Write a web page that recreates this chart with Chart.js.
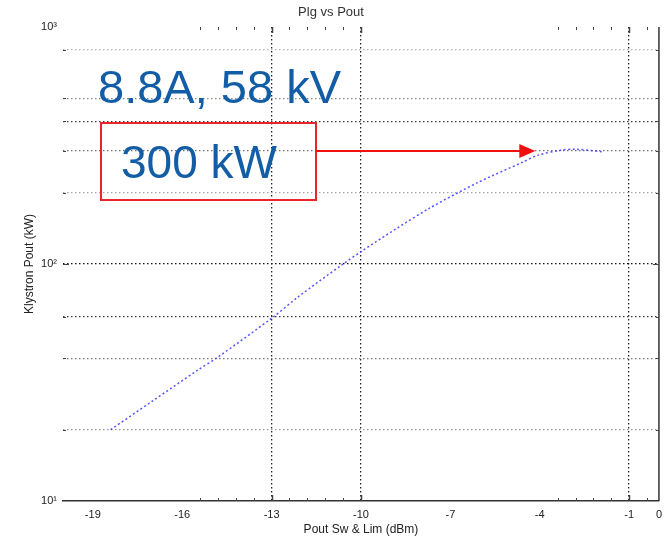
<!DOCTYPE html>
<html>
<head>
<meta charset="utf-8">
<title>Plg vs Pout</title>
<script src="https://cdn.jsdelivr.net/npm/chart.js@4/dist/chart.umd.min.js"></script>
<style>
  html, body { margin: 0; padding: 0; background: #fff; }
  #wrap { width: 669px; height: 538px; position: relative; }
</style>
</head>
<body>
<div id="wrap"><canvas id="grafico"></canvas></div>
<script>
// drive level (dBm) and klystron output power (kW)
const pinDbm = [-18.4, -17.0, -15.5, -14.8, -13.0, -12.1, -10.6, -10.0, -8.85, -7.7, -6.1, -4.6, -4.05, -3.3, -2.8, -1.85];
const poutKw = [20, 26.4, 35.5, 40.5, 59, 72.8, 100, 112.7, 140, 172, 220, 268, 288, 302, 305, 297];

// axis ticks
const xLabelTicks = [-19, -16, -13, -10, -7, -4, -1, 0];
const xGridTicks = [-13, -10, -1];
const xMinorTicks = [-15.4, -14.8, -14.2, -13.6, -12.4, -11.8, -11.2, -10.6, -3.4, -2.8, -2.2, -1.6, -0.4];
const yLabelTicks = [10, 100, 1000];
const yLabelText = ["10\u00B9", "10\u00B2", "10\u00B3"];
const yGridTicks = [20, 40, 60, 100, 200, 300, 400, 500, 800];

// annotation
const operatingPoint = "8.8A, 58 kV";
const peakLabel = "300 kW";
const peakKw = 300;
const arrowTipDbm = -4.15;

const fontFamily = "'Liberation Sans', Arial, sans-serif";
const gridShade = { 20: "#9a9a9a", 40: "#777", 60: "#3c3c3c", 100: "#111", 200: "#a8a8a8", 300: "#707070", 400: "#3c3c3c", 500: "#888", 800: "#b0b0b0" };

// ticks on the frame, right border, boxed label and arrow
const frameAndNotes = {
  id: "frameAndNotes",
  afterDraw(chart) {
    const { ctx, chartArea: a, scales: { x, y } } = chart;
    ctx.save();
    ctx.strokeStyle = "#333";
    ctx.lineWidth = 1.5;
    ctx.beginPath();
    ctx.moveTo(a.right, a.top);
    ctx.lineTo(a.right, a.bottom);
    ctx.stroke();

    ctx.lineWidth = 1;
    ctx.strokeStyle = "#444";
    const xTick = (v, len) => {
      const px = Math.round(x.getPixelForValue(v)) + 0.5;
      ctx.beginPath();
      ctx.moveTo(px, a.bottom); ctx.lineTo(px, a.bottom - len);
      ctx.moveTo(px, a.top); ctx.lineTo(px, a.top + len);
      ctx.stroke();
    };
    xMinorTicks.forEach(v => xTick(v, 3));
    ctx.lineWidth = 1.5;
    xGridTicks.forEach(v => xTick(v, 6));

    ctx.lineWidth = 1;
    const yTick = (v, len) => {
      const py = Math.round(y.getPixelForValue(v)) + 0.5;
      ctx.beginPath();
      ctx.moveTo(a.left, py); ctx.lineTo(a.left + len, py);
      ctx.moveTo(a.right, py); ctx.lineTo(a.right - len, py);
      ctx.stroke();
    };
    yGridTicks.forEach(v => yTick(v, v === 100 ? 6 : 3));

    // operating point text
    ctx.fillStyle = "#125da6";
    ctx.textBaseline = "alphabetic";
    ctx.textAlign = "left";
    ctx.font = "47px " + fontFamily;
    ctx.fillText(operatingPoint, 98, 103);
    ctx.font = "46px " + fontFamily;
    ctx.fillText(peakLabel, 121, 178);

    // red box round the power label
    ctx.strokeStyle = "#e8262a";
    ctx.lineWidth = 2;
    ctx.strokeRect(101, 123, 215, 77);

    // arrow to the saturated output
    const ay = y.getPixelForValue(peakKw);
    const tip = x.getPixelForValue(arrowTipDbm);
    ctx.strokeStyle = "#f01010";
    ctx.fillStyle = "#f01010";
    ctx.beginPath();
    ctx.moveTo(316, ay);
    ctx.lineTo(tip - 14, ay);
    ctx.stroke();
    ctx.beginPath();
    ctx.moveTo(tip, ay);
    ctx.lineTo(tip - 16, ay - 7);
    ctx.lineTo(tip - 16, ay + 7);
    ctx.closePath();
    ctx.fill();
    ctx.restore();
  }
};

new Chart(document.getElementById("grafico"), {
  type: "line",
  data: {
    datasets: [{
      data: pinDbm.map((v, i) => ({ x: v, y: poutKw[i] })),
      borderColor: "rgba(55, 55, 255, 0.85)",
      borderWidth: 1.5,
      borderDash: [2, 2.5],
      pointRadius: 0,
      tension: 0.3,
      fill: false
    }]
  },
  plugins: [frameAndNotes],
  options: {
    responsive: true,
    maintainAspectRatio: false,
    animation: false,
    layout: { padding: { top: 0, right: 7, bottom: 0, left: 0 } },
    plugins: {
      legend: { display: false },
      tooltip: { enabled: false },
      title: {
        display: true,
        text: "Plg vs Pout",
        color: "#333",
        font: { family: fontFamily, size: 13, weight: "normal" },
        padding: { top: 5, bottom: 6.4 }
      }
    },
    scales: {
      x: {
        type: "linear",
        min: -20,
        max: 0,
        afterBuildTicks: s => { s.ticks = xLabelTicks.map(v => ({ value: v })); },
        afterFit: s => { s.height = 37; },
        border: { display: true, color: "#333", width: 1.5, dash: [1.5, 2.5] },
        grid: {
          drawTicks: false,
          color: c => (c.tick && xGridTicks.includes(c.tick.value)) ? "#222" : "transparent",
          lineWidth: 1.3
        },
        ticks: {
          autoSkip: false,
          maxRotation: 0,
          padding: 7,
          color: "#222",
          font: { family: fontFamily, size: 11 },
          callback: v => String(v)
        },
        title: {
          display: true,
          text: "Pout Sw & Lim (dBm)",
          color: "#222",
          font: { family: fontFamily, size: 12 },
          padding: { top: 0, bottom: 1 }
        }
      },
      y: {
        type: "logarithmic",
        min: 10,
        max: 1000,
        afterBuildTicks: s => {
          const vals = [...new Set([...yLabelTicks, ...yGridTicks])].sort((p, q) => p - q);
          s.ticks = vals.map(v => ({ value: v }));
        },
        afterFit: s => { s.width = 63; },
        border: { display: false, dash: [1.5, 2.5] },
        grid: {
          drawTicks: false,
          color: c => (c.tick && gridShade[c.tick.value]) ? gridShade[c.tick.value] : "transparent",
          lineWidth: 1.3
        },
        ticks: {
          autoSkip: false,
          padding: 6,
          color: "#222",
          font: { family: fontFamily, size: 11 },
          callback: v => {
            const i = yLabelTicks.indexOf(v);
            return i >= 0 ? yLabelText[i] : "";
          }
        },
        title: {
          display: true,
          text: "Klystron Pout (kW)",
          color: "#222",
          font: { family: fontFamily, size: 12 },
          padding: { top: 22, bottom: 0 }
        }
      }
    }
  }
});
</script>
</body>
</html>
